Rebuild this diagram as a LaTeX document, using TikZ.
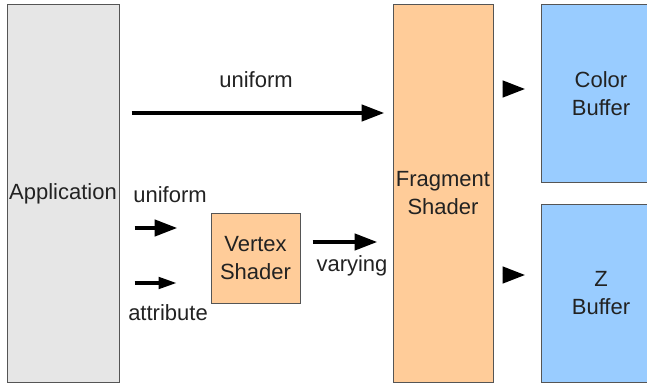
\documentclass[tikz,border=0pt]{standalone}
\usepackage{fontspec}
\setmainfont{Liberation Sans}
\usetikzlibrary{arrows.meta}

\definecolor{appgray}{HTML}{E6E6E6}
\definecolor{shaderorange}{HTML}{FFCC99}
\definecolor{bufferblue}{HTML}{99CCFF}
\definecolor{edgegray}{HTML}{555555}
\definecolor{textgray}{HTML}{222222}

\begin{document}
\begin{tikzpicture}[x=1pt, y=1pt,
    font=\fontsize{22}{28}\selectfont, text=textgray,
    stage/.style={draw=edgegray, line width=1pt, text centered, inner sep=0pt},
    flow/.style={line width=4.5pt, -{Triangle[length=23pt, width=16pt]}},
    smallflow/.style={line width=4.5pt, -{Triangle[length=19pt, width=11pt]}}]

\useasboundingbox (0,0) rectangle (647,383);

\path (63,189.5) node (app) [stage, fill=appgray, minimum width=112pt, minimum height=377pt] {Application};
\path (443,189.5) node (frag) [stage, fill=shaderorange, minimum width=100pt, minimum height=377pt, text width=100pt] {Fragment\\ Shader};
\path (255.5,124.5) node (vertex) [stage, fill=shaderorange, minimum width=89pt, minimum height=89pt, text width=89pt] {Vertex\\ Shader};
\path (601,289) node (color) [stage, fill=bufferblue, minimum width=120pt, minimum height=178pt, text width=120pt] {Color\\ Buffer};
\path (601,89.5) node (zbuf) [stage, fill=bufferblue, minimum width=120pt, minimum height=177pt, text width=120pt] {Z\\ Buffer};

\coordinate (toprow) at (0,270);
\coordinate (unirow) at (0,155);
\coordinate (attrow) at (0,100);
\coordinate (varrow) at (0,141);

\draw[flow, shorten <=12pt, shorten >=8pt] (app.east |- toprow) -- node[above=20pt] {uniform} (frag.west |- toprow);

\draw[flow, shorten <=15pt, shorten >=33pt] (app.east |- unirow) -- (vertex.west |- unirow);
\draw[smallflow, shorten <=15pt, shorten >=33pt] (app.east |- attrow) -- (vertex.west |- attrow);
\node at (170,188) (unilabel) {uniform};
\node at (168,70) (attlabel) {attribute};

\draw[flow, shorten <=12pt, shorten >=15pt] (vertex.east |- varrow) -- (frag.west |- varrow);
\node at (352,117) (varlabel) {varying};

\draw[flow, shorten <=9pt, shorten >=15pt] (frag.east |- 0,294) -- (color.west |- 0,294);
\draw[flow, shorten <=9pt, shorten >=15pt] (frag.east |- 0,108) -- (zbuf.west |- 0,108);

\end{tikzpicture}
\end{document}
